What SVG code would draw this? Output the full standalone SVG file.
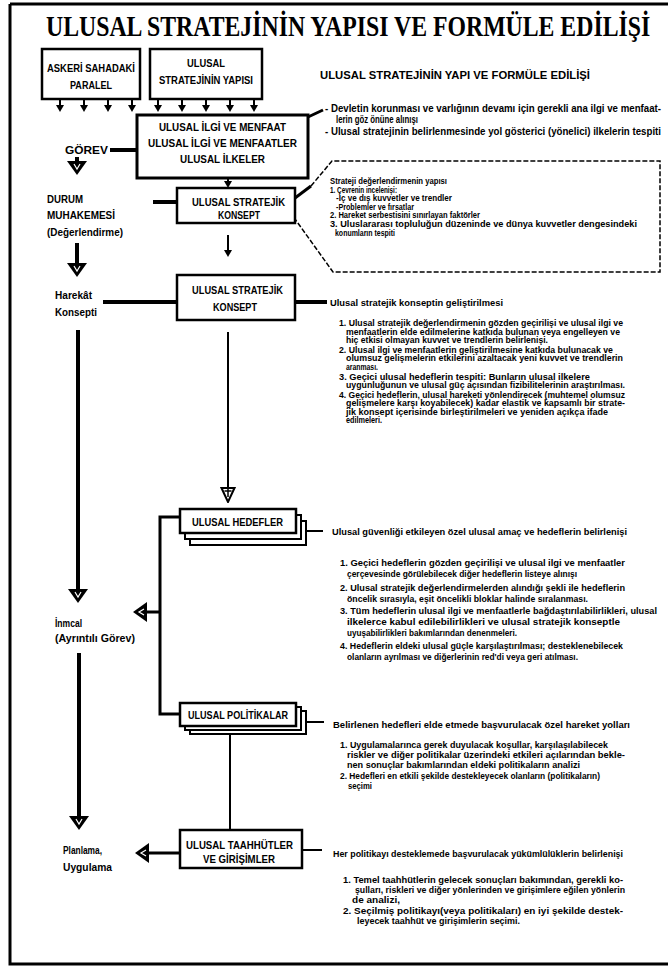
<svg xmlns="http://www.w3.org/2000/svg" width="670" height="972" viewBox="0 0 670 972">
<defs>
<style>
.t{font-family:"Liberation Sans",Arial,sans-serif;font-weight:bold;fill:#000}
.bx{font-size:11px}
.lb{font-size:10.5px}
.tx{font-size:9.5px}
.sm{font-size:8.5px}
.ttl{font-family:"Liberation Serif","Times New Roman",serif;font-weight:bold;font-size:30px;fill:#000}
.box{fill:#fff;stroke:#000;stroke-width:2.5}
.stk{fill:#fff;stroke:#000;stroke-width:2}
.ln{fill:none;stroke:#000}
.w4{stroke-width:4}
.w3{stroke-width:3}
.w2{stroke-width:2}
.dsh{stroke-width:1.5;stroke-dasharray:5 2}
</style>
<marker id="big" markerUnits="userSpaceOnUse" viewBox="0 0 14 20" markerWidth="14" markerHeight="20" refX="3" refY="10" orient="auto">
<path d="M0,0 L14,10 L0,20 Z" fill="#000"/>
<path d="M3,7 L8,10 L3,13" fill="none" stroke="#fff" stroke-width="1.2"/>
</marker>
<marker id="sma" markerUnits="userSpaceOnUse" viewBox="0 0 7 8" markerWidth="7" markerHeight="8" refX="1" refY="4" orient="auto">
<path d="M0,0 L7,4 L0,8 Z" fill="#000"/>
</marker>
<marker id="hol" markerUnits="userSpaceOnUse" viewBox="0 0 16 16" markerWidth="16" markerHeight="16" refX="1" refY="8" orient="auto">
<path d="M1,1.5 L15,8 L1,14.5 Z" fill="#fff" stroke="#000" stroke-width="2"/>
<path d="M1,8 H10 M4,4.5 V11.5" stroke="#000" stroke-width="1.5"/>
</marker>
</defs>
<rect width="670" height="972" fill="#fff"/>
<path class="ln w3" d="M10,4 H668 M10,4 V964 H668"/>
<text class="ttl" transform="translate(46,36) scale(0.76,1)" x="0" y="0" textLength="795" lengthAdjust="spacingAndGlyphs">ULUSAL STRATEJİNİN YAPISI VE FORMÜLE EDİLİŞİ</text>
<text class="t" style="font-size:10.5px" x="320" y="79" textLength="270" lengthAdjust="spacingAndGlyphs">ULUSAL STRATEJİNİN YAPI VE FORMÜLE EDİLİŞİ</text>

<g id="connectors">
<g class="ln w2" marker-end="url(#sma)">
<path d="M60,98 V106"/><path d="M84,98 V106"/><path d="M108,98 V106"/><path d="M132,98 V106"/>
<path d="M158,98 V106"/><path d="M182,98 V106"/><path d="M206,98 V106"/><path d="M230,98 V106"/><path d="M254,98 V106"/>
<path d="M228,179 V182"/>
<path d="M228,235 V251"/>
</g>
<path class="ln w4" d="M110,150 H137"/>
<path class="ln w3" d="M308,117 L323,110"/>
<path class="ln w4" d="M153,202 H177"/>
<path class="ln w3" d="M295,198 L311,186"/>
<path class="ln dsh" d="M311,186 L332,161 H660 V272 H333 L295,219"/>
<path class="ln w4" d="M103,302 H177"/>
<path class="ln w4" d="M295,302 H327"/>
<path class="ln w4" marker-end="url(#big)" d="M77,157 V164"/>
<path class="ln w4" marker-end="url(#big)" d="M77,243 V266"/>
<path class="ln w4" marker-end="url(#big)" d="M78,330 V592"/>
<path class="ln w4" marker-end="url(#big)" d="M79,653 V819"/>
<path class="ln w2" marker-end="url(#hol)" d="M228,332 V488"/>
<path class="ln w3" d="M180,517 H160 V714 H180"/>
<path class="ln w3" marker-end="url(#big)" d="M160,612 H144"/>
<path class="ln w3" marker-end="url(#big)" d="M180,853 H146"/>
<path class="ln w2" d="M230,734 V830"/>
<path class="ln w2" d="M306,531 H323"/>
<path class="ln w2" d="M306,722 H324"/>
<path class="ln w2" d="M302,850 H322"/>
</g>

<g id="n-askeri">
<rect class="box" x="42" y="49" width="98" height="50"/>
<text class="t bx" x="47" y="72" textLength="88" lengthAdjust="spacingAndGlyphs">ASKERİ SAHADAKİ</text>
<text class="t bx" x="70" y="89" textLength="42" lengthAdjust="spacingAndGlyphs">PARALEL</text>
</g>
<g id="n-yapisi">
<rect class="box" x="150" y="49" width="112" height="50"/>
<text class="t bx" x="187" y="67" textLength="38" lengthAdjust="spacingAndGlyphs">ULUSAL</text>
<text class="t bx" x="159" y="84" textLength="94" lengthAdjust="spacingAndGlyphs">STRATEJİNİN YAPISI</text>
</g>
<g id="n-ilgi">
<rect class="box" x="137" y="115" width="171" height="63" style="stroke-width:3"/>
<text class="t bx" x="159" y="131" textLength="127" lengthAdjust="spacingAndGlyphs">ULUSAL İLGİ VE MENFAAT</text>
<text class="t bx" x="148" y="147" textLength="149" lengthAdjust="spacingAndGlyphs">ULUSAL İLGİ VE MENFAATLER</text>
<text class="t bx" x="180" y="163" textLength="85" lengthAdjust="spacingAndGlyphs">ULUSAL İLKELER</text>
</g>
<g id="n-bullets">
<text class="t" style="font-size:10px" transform="translate(325,112) scale(0.8,1)" x="0" y="0" textLength="420" lengthAdjust="spacingAndGlyphs">- Devletin korunması ve varlığının devamı için gerekli ana ilgi ve menfaat-</text>
<text class="t" style="font-size:10px" x="336" y="123" textLength="82" lengthAdjust="spacingAndGlyphs">lerin göz önüne alınışı</text>
<text class="t" style="font-size:10px" transform="translate(325,135) scale(0.8,1)" x="0" y="0" textLength="420" lengthAdjust="spacingAndGlyphs">- Ulusal stratejinin belirlenmesinde yol gösterici (yönelici) ilkelerin tespiti</text>
</g>
<g id="n-gorev">
<text class="t lb" x="65" y="154" textLength="43" lengthAdjust="spacingAndGlyphs">GÖREV</text>
</g>
<g id="n-konsept1">
<rect class="box" x="177" y="188" width="118" height="35"/>
<text class="t bx" x="192" y="206" textLength="93" lengthAdjust="spacingAndGlyphs">ULUSAL STRATEJİK</text>
<text class="t bx" x="218" y="219" textLength="42" lengthAdjust="spacingAndGlyphs">KONSEPT</text>
</g>
<g id="n-callout">
<text class="t sm" x="330" y="184" textLength="117" lengthAdjust="spacingAndGlyphs">Strateji değerlendirmenin yapısı</text>
<text class="t sm" x="330" y="192.5" textLength="67" lengthAdjust="spacingAndGlyphs">1. Çevrenin incelenişi:</text>
<text class="t sm" x="336" y="201" textLength="116" lengthAdjust="spacingAndGlyphs">-İç ve dış kuvvetler ve trendler</text>
<text class="t sm" x="336" y="209.5" textLength="78" lengthAdjust="spacingAndGlyphs">-Problemler ve fırsatlar</text>
<text class="t sm" x="330" y="218" textLength="150" lengthAdjust="spacingAndGlyphs">2. Hareket serbestisini sınırlayan faktörler</text>
<text class="t sm" x="330" y="227" textLength="307" lengthAdjust="spacingAndGlyphs">3. Uluslararası topluluğun düzeninde ve dünya kuvvetler dengesindeki</text>
<text class="t sm" x="335" y="236" textLength="60" lengthAdjust="spacingAndGlyphs">konumların tespiti</text>
</g>
<g id="n-durum">
<text class="t lb" x="47" y="203" textLength="36" lengthAdjust="spacingAndGlyphs">DURUM</text>
<text class="t lb" x="47" y="219" textLength="68" lengthAdjust="spacingAndGlyphs">MUHAKEMESİ</text>
<text class="t lb" x="47" y="236" textLength="76" lengthAdjust="spacingAndGlyphs">(Değerlendirme)</text>
</g>
<g id="n-harekat">
<text class="t lb" x="55" y="299" textLength="37" lengthAdjust="spacingAndGlyphs">Harekât</text>
<text class="t lb" x="55" y="316" textLength="42" lengthAdjust="spacingAndGlyphs">Konsepti</text>
</g>
<g id="n-konsept2">
<rect class="box" x="177" y="275" width="118" height="45"/>
<text class="t bx" x="192" y="294" textLength="91" lengthAdjust="spacingAndGlyphs">ULUSAL STRATEJİK</text>
<text class="t bx" x="213" y="311" textLength="44" lengthAdjust="spacingAndGlyphs">KONSEPT</text>
</g>
<g id="n-gelistirme">
<text class="t tx" x="330" y="306" textLength="173" lengthAdjust="spacingAndGlyphs">Ulusal stratejik konseptin geliştirilmesi</text>
<text class="t sm" x="339" y="326" textLength="284" lengthAdjust="spacingAndGlyphs">1. Ulusal stratejik değerlendirmenin gözden geçirilişi ve ulusal ilgi ve</text>
<text class="t sm" x="346" y="334.5" textLength="274" lengthAdjust="spacingAndGlyphs">menfaatlerin elde edilmelerine katkıda bulunan veya engelleyen ve</text>
<text class="t sm" x="346" y="343" textLength="202" lengthAdjust="spacingAndGlyphs">hiç etkisi olmayan kuvvet ve trendlerin belirlenişi.</text>
<text class="t sm" x="339" y="352.5" textLength="274" lengthAdjust="spacingAndGlyphs">2. Ulusal ilgi ve menfaatlerin geliştirilmesine katkıda bulunacak ve</text>
<text class="t sm" x="346" y="361" textLength="277" lengthAdjust="spacingAndGlyphs">olumsuz gelişmelerin etkilerini azaltacak yeni kuvvet ve trendlerin</text>
<text class="t sm" x="346" y="369.5" textLength="32" lengthAdjust="spacingAndGlyphs">aranması.</text>
<text class="t sm" x="339" y="379.5" textLength="251" lengthAdjust="spacingAndGlyphs">3. Geçici ulusal hedeflerin tespiti: Bunların ulusal ilkelere</text>
<text class="t sm" x="346" y="388" textLength="279" lengthAdjust="spacingAndGlyphs">uygunluğunun ve ulusal güç açısından fizibilitelerinin araştırılması.</text>
<text class="t sm" x="339" y="397.5" textLength="286" lengthAdjust="spacingAndGlyphs">4. Geçici hedeflerin, ulusal hareketi yönlendirecek (muhtemel olumsuz</text>
<text class="t sm" x="346" y="406" textLength="279" lengthAdjust="spacingAndGlyphs">gelişmelere karşı koyabilecek) kadar elastik ve kapsamlı bir strate-</text>
<text class="t sm" x="346" y="414.5" textLength="262" lengthAdjust="spacingAndGlyphs">jik konsept içerisinde birleştirilmeleri ve yeniden açıkça ifade</text>
<text class="t sm" x="346" y="423" textLength="36" lengthAdjust="spacingAndGlyphs">edilmeleri.</text>
</g>
<g id="n-hedefler">
<rect class="stk" x="190" y="521" width="116" height="24"/>
<rect class="stk" x="185" y="515" width="116" height="24"/>
<rect class="box" x="180" y="509" width="116" height="24"/>
<text class="t bx" x="192" y="526" textLength="91" lengthAdjust="spacingAndGlyphs">ULUSAL HEDEFLER</text>
</g>
<g id="n-hedef-text">
<text class="t tx" x="332" y="535" textLength="295" lengthAdjust="spacingAndGlyphs">Ulusal güvenliği etkileyen özel ulusal amaç ve hedeflerin belirlenişi</text>
<text class="t tx" x="340" y="566" textLength="285" lengthAdjust="spacingAndGlyphs">1. Geçici hedeflerin gözden geçirilişi ve ulusal ilgi ve menfaatler</text>
<text class="t tx" x="347" y="577" textLength="230" lengthAdjust="spacingAndGlyphs">çerçevesinde görülebilecek diğer hedeflerin listeye alınışı</text>
<text class="t tx" x="340" y="591" textLength="285" lengthAdjust="spacingAndGlyphs">2. Ulusal stratejik değerlendirmelerden alındığı şekli ile hedeflerin</text>
<text class="t tx" x="347" y="602" textLength="241" lengthAdjust="spacingAndGlyphs">öncelik sırasıyla, eşit öncelikli bloklar halinde sıralanması.</text>
<text class="t tx" x="340" y="614" textLength="317" lengthAdjust="spacingAndGlyphs">3. Tüm hedeflerin ulusal ilgi ve menfaatlerle bağdaştırılabilirlikleri, ulusal</text>
<text class="t tx" x="347" y="625" textLength="273" lengthAdjust="spacingAndGlyphs">ilkelerce kabul edilebilirlikleri ve ulusal stratejik konseptle</text>
<text class="t tx" x="347" y="636" textLength="170" lengthAdjust="spacingAndGlyphs">uyuşabilirlikleri bakımlarından denenmeleri.</text>
<text class="t tx" x="340" y="649" textLength="283" lengthAdjust="spacingAndGlyphs">4. Hedeflerin eldeki ulusal güçle karşılaştırılması; desteklenebilecek</text>
<text class="t tx" x="347" y="660" textLength="231" lengthAdjust="spacingAndGlyphs">olanların ayrılması ve diğerlerinin red'di veya geri atılması.</text>
</g>
<g id="n-inmcal">
<text class="t lb" x="55" y="627" textLength="27" lengthAdjust="spacingAndGlyphs">İnmcal</text>
<text class="t lb" x="55" y="642" textLength="80" lengthAdjust="spacingAndGlyphs">(Ayrıntılı Görev)</text>
</g>
<g id="n-politikalar">
<rect class="stk" x="190" y="711" width="116" height="23"/>
<rect class="stk" x="185" y="707" width="116" height="23"/>
<rect class="box" x="180" y="703" width="116" height="23"/>
<text class="t bx" x="188" y="719" textLength="100" lengthAdjust="spacingAndGlyphs">ULUSAL POLİTİKALAR</text>
</g>
<g id="n-politika-text">
<text class="t tx" x="333" y="728" textLength="297" lengthAdjust="spacingAndGlyphs">Belirlenen hedefleri elde etmede başvurulacak özel hareket yolları</text>
<text class="t tx" x="340" y="748" textLength="268" lengthAdjust="spacingAndGlyphs">1. Uygulamalarınca gerek duyulacak koşullar, karşılaşılabilecek</text>
<text class="t tx" x="347" y="758" textLength="278" lengthAdjust="spacingAndGlyphs">riskler ve diğer politikalar üzerindeki etkileri açılarından bekle-</text>
<text class="t tx" x="347" y="768" textLength="233" lengthAdjust="spacingAndGlyphs">nen sonuçlar bakımlarından eldeki politikaların analizi</text>
<text class="t tx" x="340" y="779" textLength="260" lengthAdjust="spacingAndGlyphs">2. Hedefleri en etkili şekilde destekleyecek olanların (politikaların)</text>
<text class="t tx" x="348" y="789" textLength="24" lengthAdjust="spacingAndGlyphs">seçimi</text>
</g>
<g id="n-taahhutler">
<rect class="box" x="180" y="830" width="122" height="38"/>
<text class="t bx" x="186" y="849" textLength="107" lengthAdjust="spacingAndGlyphs">ULUSAL TAAHHÜTLER</text>
<text class="t bx" x="203" y="863" textLength="72" lengthAdjust="spacingAndGlyphs">VE GİRİŞİMLER</text>
</g>
<g id="n-planlama">
<text class="t lb" x="63" y="854" textLength="39" lengthAdjust="spacingAndGlyphs">Planlama,</text>
<text class="t lb" x="63" y="871" textLength="49" lengthAdjust="spacingAndGlyphs">Uygulama</text>
</g>
<g id="n-taahhut-text">
<text class="t tx" x="333" y="857" textLength="290" lengthAdjust="spacingAndGlyphs">Her politikayı desteklemede başvurulacak yükümlülüklerin belirlenişi</text>
<text class="t tx" x="343" y="883" textLength="280" lengthAdjust="spacingAndGlyphs">1. Temel taahhütlerin gelecek sonuçları bakımından, gerekli ko-</text>
<text class="t tx" x="355" y="893" textLength="270" lengthAdjust="spacingAndGlyphs">şulları, riskleri ve diğer yönlerinden ve girişimlere eğilen yönlerin</text>
<text class="t tx" x="352" y="903" textLength="48" lengthAdjust="spacingAndGlyphs">de analizi,</text>
<text class="t tx" x="343" y="914" textLength="280" lengthAdjust="spacingAndGlyphs">2. Seçilmiş politikayı(veya politikaları) en iyi şekilde destek-</text>
<text class="t tx" x="357" y="924" textLength="163" lengthAdjust="spacingAndGlyphs">leyecek taahhüt ve girişimlerin seçimi.</text>
</g>
</svg>
